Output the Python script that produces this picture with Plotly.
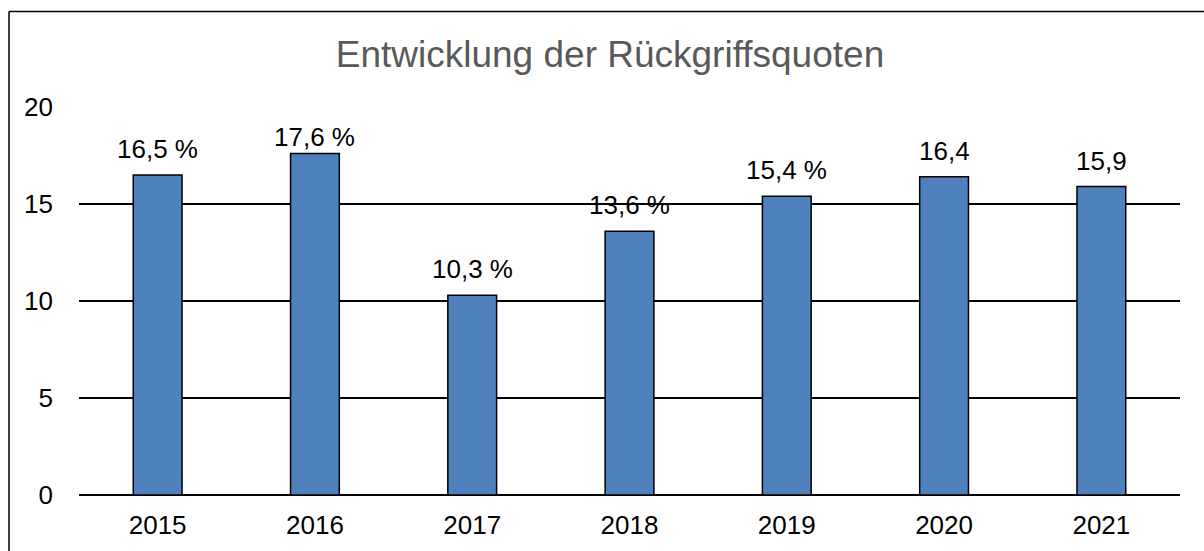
import plotly.graph_objects as go

# Rückgriffsquoten per year
years = ["2015", "2016", "2017", "2018", "2019", "2020", "2021"]
quoten = [16.5, 17.6, 10.3, 13.6, 15.4, 16.4, 15.9]
labels = ["16,5 %", "17,6 %", "10,3 %", "13,6 %", "15,4 %", "16,4", "15,9"]
y_ticks = [0, 5, 10, 15, 20]

W, H = 1204, 551
ml, mr, mt, mb = 79, 24, 107, 56
pw, ph = W - ml - mr, H - mt - mb
FONT = "Liberation Sans, Arial"

fig = go.Figure()
fig.add_trace(go.Bar(
    x=years, y=quoten,
    marker=dict(color="#4F81BD", line=dict(color="black", width=1.5)),
    width=0.31,
    hoverinfo="skip",
))

# value labels above bars (category axis positions by index);
# the tallest bar's label sits closer to its bar
label_gap = {1: 0}
for i, (v, t) in enumerate(zip(quoten, labels)):
    fig.add_annotation(x=i, y=v, text=t, showarrow=False, yanchor="bottom",
                       yshift=label_gap.get(i, 9),
                       font=dict(size=26, color="black", family=FONT))

# frame: top and left edges of the chart area
bx = (9 - ml) / pw
by = (H - mb - 11.5) / ph
fig.add_shape(type="line", xref="paper", yref="paper", x0=bx, y0=by, x1=1.5, y1=by,
              line=dict(color="black", width=1.5))
fig.add_shape(type="line", xref="paper", yref="paper", x0=bx, y0=by, x1=bx, y1=-0.5,
              line=dict(color="black", width=1.5))

fig.update_layout(
    width=W, height=H,
    margin=dict(l=ml, r=mr, t=mt, b=mb),
    paper_bgcolor="white", plot_bgcolor="white",
    showlegend=False,
    font=dict(family=FONT, size=26, color="black"),
    title=dict(text="Entwicklung der Rückgriffsquoten", x=610 / W, xanchor="center",
               y=1 - 54 / H, yanchor="middle",
               font=dict(size=37, color="#595959", family=FONT)),
    xaxis=dict(type="category", range=[-0.5, len(years) - 0.5], showgrid=False,
               showline=False, ticks="", ticklabelstandoff=12,
               tickfont=dict(size=26, color="black")),
    yaxis=dict(range=[0, 20], tickvals=y_ticks, showgrid=True, gridcolor="black",
               gridwidth=1.5, zeroline=True, zerolinecolor="black", zerolinewidth=1.5,
               showline=False, ticks="", ticklabelstandoff=25,
               tickfont=dict(size=26, color="black")),
)

fig.write_html("out.html")
